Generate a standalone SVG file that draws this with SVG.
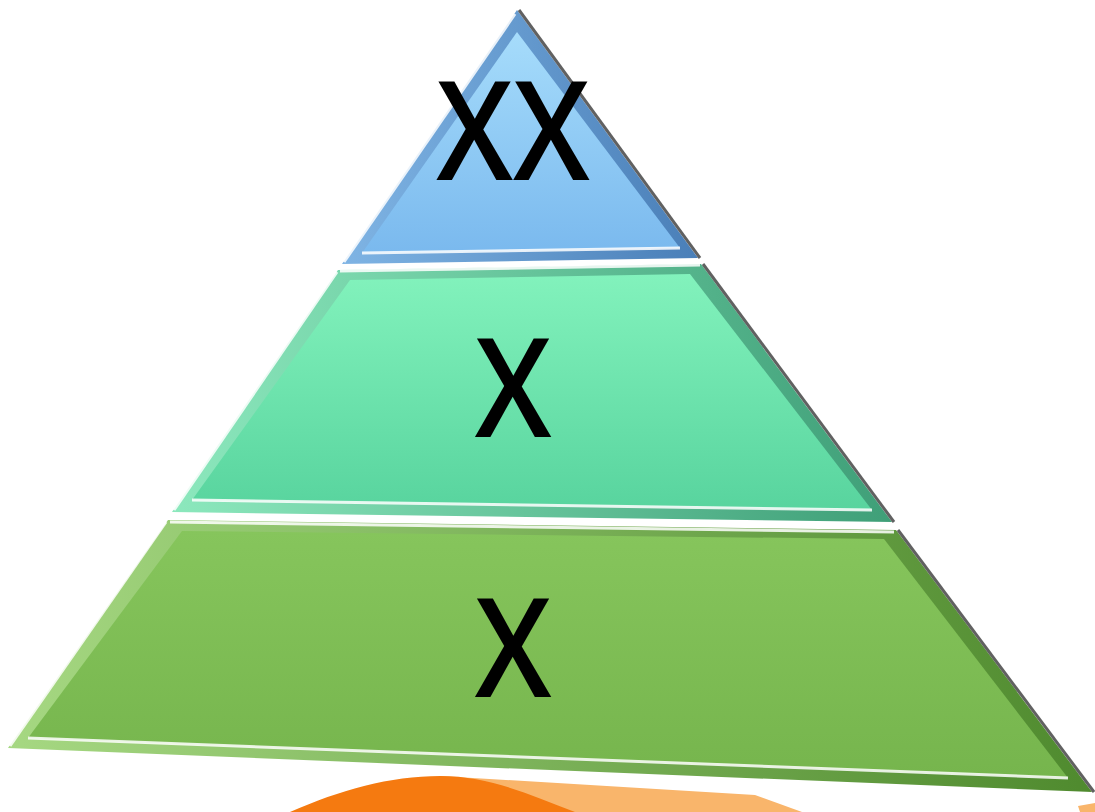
<svg xmlns="http://www.w3.org/2000/svg" width="1095" height="812" viewBox="0 0 1095 812">
<style>
.lbl{font-family:"Open Sans","Liberation Sans",sans-serif;font-size:137px;font-weight:600;fill:#000;text-anchor:middle}
.hl{fill:none;stroke:#ffffff;stroke-width:3;stroke-opacity:0.85}
.sh{fill:none;stroke:#3a3a3a;stroke-width:3;stroke-opacity:0.8}
</style>
<defs>
<linearGradient id="gBlue" x1="0" y1="0" x2="0" y2="1"><stop offset="0" stop-color="#a6dcfb"/><stop offset="1" stop-color="#7ab9ee"/></linearGradient>
<linearGradient id="gBlueE" x1="0" y1="0" x2="1" y2="0"><stop offset="0" stop-color="#7fb4e4"/><stop offset="1" stop-color="#4a7fb8"/></linearGradient>
<linearGradient id="gMid" x1="0" y1="0" x2="0" y2="1"><stop offset="0" stop-color="#82f2bc"/><stop offset="1" stop-color="#58d49e"/></linearGradient>
<linearGradient id="gMidE" x1="0" y1="0" x2="1" y2="0"><stop offset="0" stop-color="#8ce8bd"/><stop offset="1" stop-color="#3f9f78"/></linearGradient>
<linearGradient id="gBot" x1="0" y1="0" x2="0" y2="1"><stop offset="0" stop-color="#86c55c"/><stop offset="1" stop-color="#76b54d"/></linearGradient>
<linearGradient id="gBotE" x1="0" y1="0" x2="1" y2="0"><stop offset="0" stop-color="#a6d882"/><stop offset="1" stop-color="#4f8a2e"/></linearGradient>
</defs>
<g id="base-orange">
<path d="M440 776 L755 795 L802 812 L440 812 Z" fill="#f9b56b"/>
<path d="M290 812 C340 790 390 776 440 776 C490 776 530 795 575 812 Z" fill="#f57a10"/>
<path d="M1078 806 L1095 803 L1095 812 L1080 812 Z" fill="#f9b56b"/>
</g>
<g id="layer-bottom">
<polygon points="168,520 896,530 1092,792 8,748" fill="url(#gBotE)"/>
<polygon points="182,531 884,539 1068,778 28,738" fill="url(#gBot)"/>
<polyline class="hl" points="28,738 1068,778"/>
<polyline class="hl" points="170,522 894,532"/>
<polyline class="hl" points="10,746 166,522" stroke-opacity="0.5"/>
<polyline class="sh" points="898,530 1094,792"/>
<text class="lbl" transform="translate(513,697) scale(0.9,1)">X</text>
</g>
<g id="layer-middle">
<polygon points="338,270 701,264 892,522 172,512" fill="url(#gMidE)"/>
<polygon points="350,280 690,274 872,510 192,500" fill="url(#gMid)"/>
<polyline class="hl" points="192,500 872,510"/>
<polyline class="hl" points="340,271 700,265" stroke-opacity="0.6"/>
<polyline class="hl" points="174,510 337,272" stroke-opacity="0.5"/>
<polyline class="sh" points="703,264 894,522"/>
<text class="lbl" transform="translate(513,437) scale(0.9,1)">X</text>
</g>
<g id="layer-top">
<polygon points="517,10 698,258 342,264" fill="url(#gBlueE)"/>
<polygon points="517,32 680,248 362,253" fill="url(#gBlue)"/>
<polyline class="hl" points="362,253 680,248"/>
<polyline class="hl" points="344,262 515,14" stroke-opacity="0.5"/>
<polyline class="sh" points="519,10 700,258"/>
<text class="lbl" transform="translate(513,180) scale(0.9,1)">XX</text>
</g>
<g id="connectors"/>
</svg>
